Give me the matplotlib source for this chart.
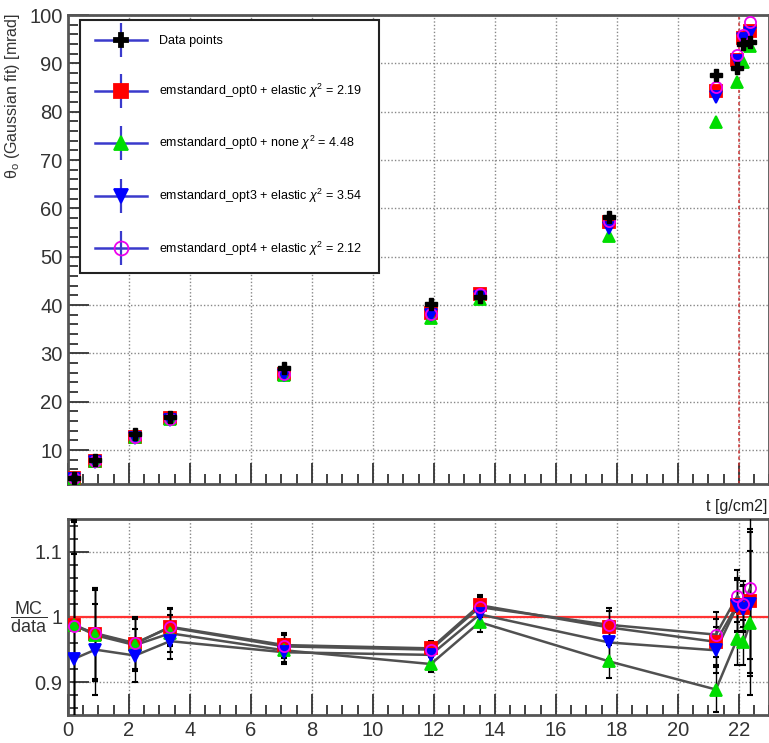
import matplotlib
matplotlib.use("Agg")
import matplotlib.pyplot as plt
from matplotlib.lines import Line2D
from matplotlib.ticker import MultipleLocator

plt.rcParams["font.family"] = ["Liberation Sans", "DejaVu Sans"]
plt.rcParams["mathtext.fontset"] = "custom"
plt.rcParams["mathtext.rm"] = "Liberation Sans"
plt.rcParams["mathtext.it"] = "Liberation Sans:italic"
plt.rcParams["mathtext.bf"] = "Liberation Sans:bold"

# thickness t [g/cm2]
t = [0.2, 0.9, 2.2, 3.35, 7.1, 11.9, 13.5, 17.75, 21.25, 21.95, 22.15, 22.38]

# theta_0 from gaussian fit [mrad]
theta_data = [4.3, 8.0, 13.3, 16.8, 27.0, 40.2, 41.6, 58.2, 87.6, 89.0, 94.0, 94.4]
theta_opt0_el = [4.25, 7.8, 12.75, 16.55, 25.85, 38.3, 42.35, 57.3, 84.3, 90.7, 95.3, 96.7]
theta_opt0_none = [4.25, 7.78, 12.73, 16.38, 25.62, 37.3, 41.27, 54.24, 77.9, 86.1, 90.3, 93.6]
theta_opt3_el = [4.02, 7.6, 12.52, 16.18, 25.54, 37.87, 41.77, 55.93, 83.1, 90.5, 95.1, 96.3]
theta_opt4_el = [4.24, 7.8, 12.77, 16.53, 25.79, 38.19, 42.22, 57.5, 85.2, 91.8, 95.9, 98.6]

# MC / data
ratio_opt0_el = [0.988, 0.974, 0.959, 0.985, 0.957, 0.952, 1.018, 0.984, 0.962, 1.019, 1.014, 1.024]
ratio_opt0_none = [0.988, 0.972, 0.957, 0.975, 0.949, 0.928, 0.992, 0.932, 0.889, 0.967, 0.961, 0.991]
ratio_opt3_el = [0.936, 0.950, 0.941, 0.963, 0.946, 0.942, 1.004, 0.961, 0.949, 1.017, 1.012, 1.020]
ratio_opt4_el = [0.986, 0.975, 0.960, 0.984, 0.955, 0.950, 1.015, 0.988, 0.973, 1.032, 1.020, 1.045]
ratio_err = [0.16, 0.07, 0.04, 0.028, 0.018, 0.012, 0.015, 0.025, 0.035, 0.04, 0.035, 0.11]

t_cut = 22.0

labels = ["Data points",
          r"emstandard_opt0 + elastic $\chi^{2}$ = 2.19",
          r"emstandard_opt0 + none $\chi^{2}$ = 4.48",
          r"emstandard_opt3 + elastic $\chi^{2}$ = 3.54",
          r"emstandard_opt4 + elastic $\chi^{2}$ = 2.12"]

# (marker, colour, filled)
styles = [("P", "black", True), ("s", "#ff0000", True), ("^", "#00dd00", True),
          ("v", "#0000ff", True), ("o", "#ee00ee", False)]

mc_theta = [theta_opt0_el, theta_opt0_none, theta_opt3_el, theta_opt4_el]
mc_ratio = [ratio_opt0_el, ratio_opt0_none, ratio_opt3_el, ratio_opt4_el]

fig = plt.figure(figsize=(7.69, 7.43), dpi=100)
ax1 = fig.add_axes([0.0884, 0.3486, 0.912, 0.631])
ax2 = fig.add_axes([0.0884, 0.0377, 0.912, 0.2638])

frame_col = "#555555"
for ax in (ax1, ax2):
    for s in ax.spines.values():
        s.set_linewidth(2)
        s.set_color(frame_col)
    ax.set_xlim(0, 23)
    ax.xaxis.set_major_locator(MultipleLocator(2))
    ax.xaxis.set_minor_locator(MultipleLocator(0.5))
    ax.tick_params(which="both", direction="in", colors="#333333", width=1.3)
    ax.tick_params(which="major", length=15, labelsize=14.5, pad=4)
    ax.tick_params(which="minor", length=7)
    ax.grid(True, which="major", color="#888888", linestyle=(0, (1, 1.5)), linewidth=1)
    ax.set_axisbelow(True)

# top panel
ax1.set_ylim(3, 100)
ax1.yaxis.set_major_locator(MultipleLocator(10))
ax1.yaxis.set_minor_locator(MultipleLocator(2))
ax1.tick_params(axis="x", labelbottom=False)
ax1.axvline(t_cut, color="#cc3333", linestyle=(0, (2, 2)), linewidth=1.1)

for th, (m, c, filled) in zip(mc_theta, styles[1:]):
    ax1.plot(t, th, linestyle="none", marker=m, markersize=8,
             markerfacecolor=c if filled else "none", markeredgecolor=c,
             markeredgewidth=1.3, zorder=3)
ax1.plot(t, theta_data, linestyle="none", marker="P", markersize=8,
         color="black", zorder=4)

ax1.set_ylabel("θ$_{\\mathrm{o}}$ (Gaussian fit) [mrad]", fontsize=11.5,
               color="#333333")
ax1.yaxis.set_label_coords(-0.066, 1.005)
ax1.yaxis.label.set_horizontalalignment("right")

# legend with ROOT-like error bar handles
leg_blue = "#3a3acc"
handles = []
for m, c, filled in styles:
    h_line = Line2D([], [], color=leg_blue, linewidth=1.8)
    v_line = Line2D([], [], marker="|", markersize=24, markeredgewidth=1.6,
                    color=leg_blue, linestyle="none")
    mk = Line2D([], [], marker=m, markersize=10, linestyle="none",
                markerfacecolor=c if filled else "none", markeredgecolor=c,
                markeredgewidth=1.3)
    handles.append((h_line, v_line, mk))

leg = ax1.legend(handles, labels, loc="upper left",
                 bbox_to_anchor=(0.017, 0.482, 0.426, 0.507), mode="expand",
                 borderaxespad=0, fontsize=9, handlelength=4.2,
                 handletextpad=0.9, labelspacing=2.75, borderpad=1.2,
                 fancybox=False, framealpha=1, edgecolor="#222222")
leg.get_frame().set_linewidth(1.5)

# bottom panel
ax2.set_ylim(0.85, 1.15)
ax2.yaxis.set_major_locator(MultipleLocator(0.1))
ax2.yaxis.set_minor_locator(MultipleLocator(0.02))
ax2.set_yticks([0.9, 1.0, 1.1])
ax2.set_yticklabels(["0.9", "1", "1.1"])
ax2.axhline(1.0, color="#ff3333", linewidth=1.6, zorder=2)

for r in mc_ratio:
    ax2.errorbar(t, r, yerr=ratio_err, fmt="none", ecolor="black",
                 elinewidth=1.0, capsize=2, capthick=1.5, zorder=3)
    ax2.plot(t, r, color="#505050", linewidth=1.8, zorder=3)
for r, (m, c, filled) in zip(mc_ratio, styles[1:]):
    ax2.plot(t, r, linestyle="none", marker=m, markersize=8,
             markerfacecolor=c if filled else "none", markeredgecolor=c,
             markeredgewidth=1.3, zorder=4)

fig.text(0.037, 0.17, r"$\dfrac{\mathrm{MC}}{\mathrm{data}}$", fontsize=13,
         ha="center", va="center", color="#333333")
fig.text(0.998, 0.318, "t [g/cm2]", fontsize=11.5, ha="right", va="center",
         color="#222222")

fig.savefig("out.png", dpi=100)
